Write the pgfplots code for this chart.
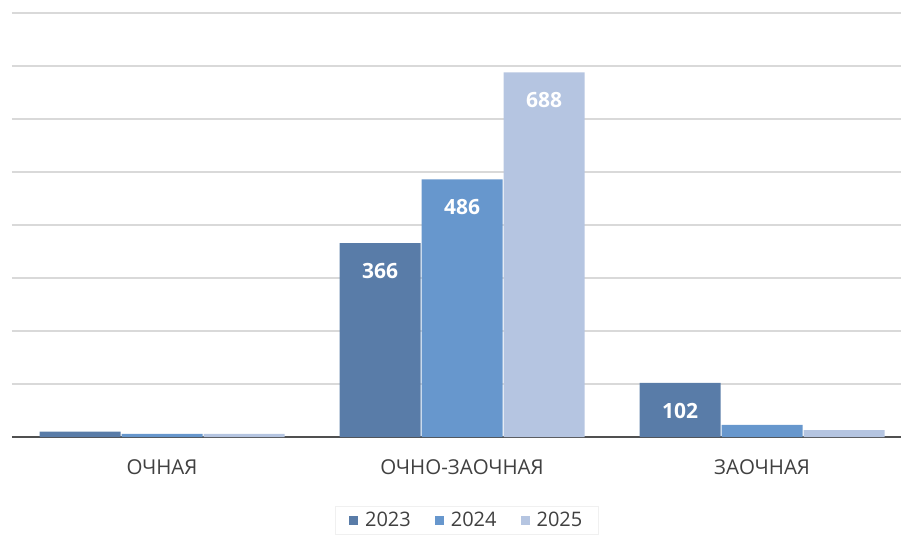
\documentclass[border=0pt]{standalone}
\usepackage{fontspec}
\setmainfont{Open Sans}
\usepackage{pgfplots}
\pgfplotsset{compat=1.18}
\definecolor{c23}{RGB}{89,124,168}
\definecolor{c24}{RGB}{103,151,205}
\definecolor{c25}{RGB}{181,197,225}
\definecolor{gridc}{RGB}{217,217,217}
\definecolor{axl}{RGB}{80,80,80}
\definecolor{txt}{RGB}{64,64,64}
\begin{document}
\begin{tikzpicture}[x=1pt,y=1pt]
\useasboundingbox (0,0) rectangle (901,535);
\begin{axis}[
  at={(12pt,98pt)}, anchor=south west,
  scale only axis, width=889pt, height=424pt,
  ymin=0, ymax=800, ytick={0,100,...,800}, yticklabels={},
  ymajorgrids, grid style={gridc, line width=1.5pt},
  major tick length=0pt,
  xmin=-0.5, xmax=2.463,
  xtick={0,1,2}, xticklabels={ОЧНАЯ, ОЧНО-ЗАОЧНАЯ, ЗАОЧНАЯ},
  xticklabel style={font=\fontsize{20.5}{24}\selectfont, text=txt, yshift=-19pt},
  axis x line*=bottom, axis y line*=left,
  x axis line style={axl, line width=2.5pt},
  y axis line style={draw=none},
  ybar=1pt, bar width=81pt,
  point meta=explicit symbolic,
  nodes near coords,
  every node near coord/.append style={anchor=center, yshift=-28pt, text=white, font=\fontsize{21}{25}\selectfont\bfseries},
  legend style={at={(0.5115,-0.196)}, anchor=center, legend columns=3,
    draw={rgb,255:red,240;green,240;blue,240}, fill=white,
    font=\fontsize{20}{24}\selectfont, text=txt, inner xsep=14pt, inner ysep=4pt,
    /tikz/every odd column/.append style={column sep=5pt},
    /tikz/every even column/.append style={column sep=22pt}},
  legend image code/.code={\fill[#1] (0pt,-4.5pt) rectangle (9pt,4.5pt);},
]
\addplot[fill=c23, draw=none] coordinates {(0,10) [] (1,366) [366] (2,102) [102]};
\addplot[fill=c24, draw=none] coordinates {(0,6) [] (1,486) [486] (2,23) []};
\addplot[fill=c25, draw=none] coordinates {(0,6) [] (1,688) [688] (2,13) []};
\legend{2023,2024,2025}
\end{axis}
\end{tikzpicture}
\end{document}
